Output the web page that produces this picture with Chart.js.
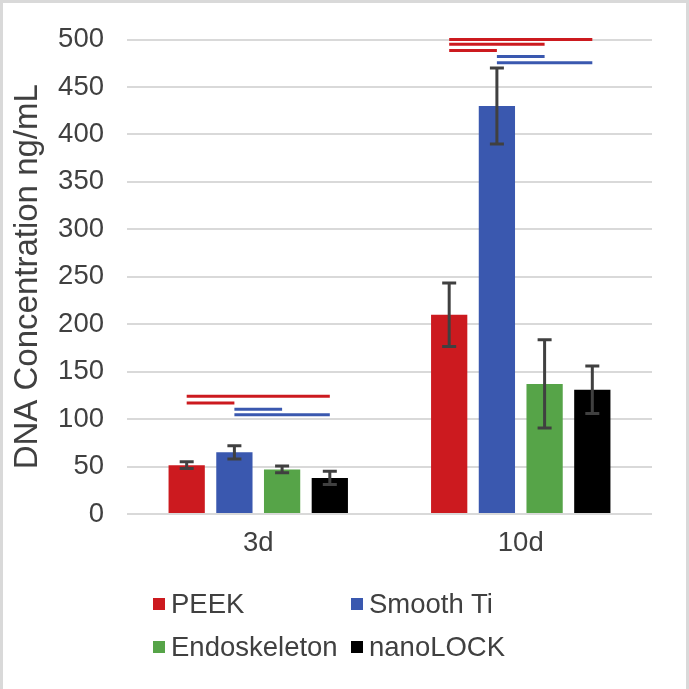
<!DOCTYPE html>
<html>
<head>
<meta charset="utf-8">
<script src="https://cdn.jsdelivr.net/npm/chart.js@4"></script>
<style>
  html, body { margin: 0; padding: 0; background: #fff; }
  #wrap { position: relative; width: 689px; height: 689px; }
  #chart { position: absolute; left: 0; top: 0; }
  #frame {
    position: absolute; left: 0; top: 0; width: 689px; height: 689px;
    box-sizing: border-box; border: 3px solid #D9D9D9; border-bottom: none;
    pointer-events: none;
  }
  #legend {
    position: absolute; left: 153px; top: 582px;
    display: grid; grid-template-columns: 198px 198px; grid-auto-rows: 43px;
    font-family: "Liberation Sans", Arial, sans-serif; font-size: 27.5px; color: #404040;
  }
  #legend .item { display: flex; align-items: center; white-space: nowrap; }
  #legend .box { width: 12px; height: 12px; margin-right: 6px; flex: none; }
</style>
</head>
<body>
<div id="wrap">
  <canvas id="chart" width="689" height="689"></canvas>
  <div id="legend"></div>
  <div id="frame"></div>
</div>
<script>
// DATA
const categories = ["3d", "10d"];
const seriesNames = ["PEEK", "Smooth Ti", "Endoskeleton", "nanoLOCK"];
const seriesColors = ["#CC1A1F", "#3A58AF", "#56A448", "#000000"];

const peek = [51.5, 210];
const peekErr = [3.5, 33.5];
const smoothTi = [65, 430];
const smoothTiErr = [7, 40];
const endoskeleton = [47, 137];
const endoskeletonErr = [3.5, 46.5];
const nanoLock = [38, 131];
const nanoLockErr = [7, 25];

const yTicks = [0, 50, 100, 150, 200, 250, 300, 350, 400, 450, 500];

// significance bars: category, from series, to series, height
const sigCategory = [0, 0, 0, 0, 1, 1, 1, 1, 1];
const sigFrom = [0, 0, 1, 1, 0, 0, 0, 1, 1];
const sigTo = [3, 1, 2, 3, 3, 2, 1, 2, 3];
const sigLevel = [124, 117, 110.5, 104.5, 500, 495, 488.5, 482, 475.5];

const values = [peek, smoothTi, endoskeleton, nanoLock];
const errors = [peekErr, smoothTiErr, endoskeletonErr, nanoLockErr];

const FONT = "'Liberation Sans', Arial, sans-serif";
const TEXT = "#404040";

// ERROR BARS + SIGNIFICANCE LINES
const overlay = {
  id: "overlay",
  afterDatasetsDraw(chart) {
    const c = chart.ctx;
    const y = chart.scales.y;
    c.save();
    // error bars
    c.strokeStyle = "#404040";
    c.lineWidth = 3;
    values.forEach((vals, i) => {
      const meta = chart.getDatasetMeta(i);
      meta.data.forEach((bar, j) => {
        const top = y.getPixelForValue(vals[j] + errors[i][j]);
        const bot = y.getPixelForValue(vals[j] - errors[i][j]);
        c.beginPath();
        c.moveTo(bar.x, top); c.lineTo(bar.x, bot);
        c.moveTo(bar.x - 7, top); c.lineTo(bar.x + 7, top);
        c.moveTo(bar.x - 7, bot); c.lineTo(bar.x + 7, bot);
        c.stroke();
      });
    });
    // significance lines
    c.lineWidth = 3;
    sigLevel.forEach((lvl, k) => {
      const a = chart.getDatasetMeta(sigFrom[k]).data[sigCategory[k]];
      const b = chart.getDatasetMeta(sigTo[k]).data[sigCategory[k]];
      const py = y.getPixelForValue(lvl);
      c.strokeStyle = seriesColors[sigFrom[k]];
      c.beginPath();
      c.moveTo(a.x, py); c.lineTo(b.x, py);
      c.stroke();
    });
    c.restore();
  },
};

// CHART
new Chart(document.getElementById("chart"), {
  type: "bar",
  data: {
    labels: categories,
    datasets: seriesNames.map((name, i) => ({
      label: name,
      data: values[i],
      backgroundColor: seriesColors[i],
      categoryPercentage: 0.727,
      barPercentage: 0.76,
    })),
  },
  options: {
    responsive: false,
    animation: false,
    layout: { padding: { top: 35, right: 37, left: 0, bottom: 0 } },
    plugins: { legend: { display: false }, tooltip: { enabled: false } },
    scales: {
      x: {
        grid: { display: false },
        border: { display: false },
        ticks: { color: TEXT, font: { family: FONT, size: 27.5 }, padding: 5 },
        afterFit: (s) => { s.height = 175; },
      },
      y: {
        min: 0,
        max: 500,
        afterBuildTicks: (s) => { s.ticks = yTicks.map((v) => ({ value: v })); },
        grid: { color: "#D9D9D9", lineWidth: 2, drawTicks: false },
        border: { display: false },
        ticks: { color: TEXT, font: { family: FONT, size: 27.5 }, padding: 23 },
        title: {
          display: true,
          text: "DNA Concentration ng/mL",
          color: TEXT,
          font: { family: FONT, size: 33 },
          padding: { top: 8, bottom: 0 },
        },
        afterFit: (s) => { s.width = 127; },
      },
    },
  },
  plugins: [overlay],
});

// LEGEND
const legend = document.getElementById("legend");
seriesNames.forEach((name, i) => {
  const item = document.createElement("div");
  item.className = "item";
  item.innerHTML = '<span class="box" style="background:' + seriesColors[i] + '"></span><span>' + name + "</span>";
  legend.appendChild(item);
});
</script>
</body>
</html>
